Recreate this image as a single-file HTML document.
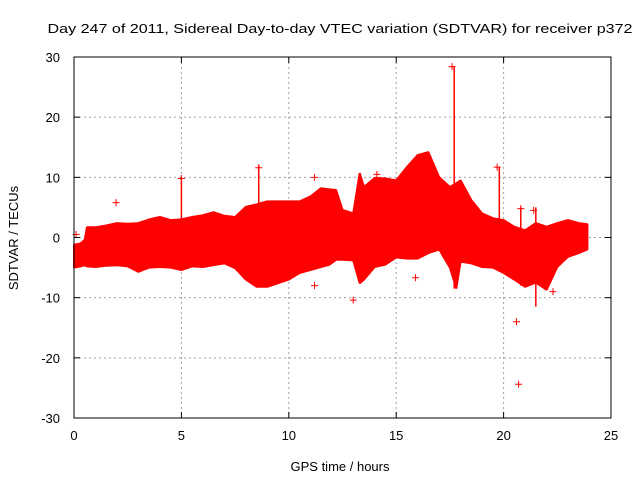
<!DOCTYPE html>
<html><head><meta charset="utf-8">
<style>
html,body{margin:0;padding:0;background:#fff;}
svg{display:block;font-family:"Liberation Sans",sans-serif;}
</style></head>
<body>
<svg id="chart" width="640" height="480" viewBox="0 0 640 480" xmlns="http://www.w3.org/2000/svg">
<text x="340" y="33" text-anchor="middle" font-size="13" textLength="585" lengthAdjust="spacingAndGlyphs">Day 247 of 2011, Sidereal Day-to-day VTEC variation (SDTVAR) for receiver p372</text>
<text transform="translate(18,238) rotate(-90)" text-anchor="middle" font-size="13">SDTVAR / TECUs</text>
<text x="340" y="471" text-anchor="middle" font-size="13">GPS time / hours</text>
<g id="grid"></g>
<g id="marks"></g>
<rect x="74" y="57" width="537" height="361" fill="none" stroke="#000" stroke-width="1"/>
<g id="ticks"></g>
</svg>
<script>
const xTicks = [0, 5, 10, 15, 20, 25];
const yTicks = [-30, -20, -10, 0, 10, 20, 30];
const hours = [0,0.3,0.5,0.6,1,1.5,2,2.5,3,3.5,4,4.5,5,5.5,6,6.5,7,7.5,8,8.5,9,9.5,10,10.5,11,11.5,11.9,12.2,12.5,13,13.3,13.5,14,14.5,15,15.5,16,16.5,17,17.5,17.8,18,18.5,19,19.5,20,20.5,21,21.5,22,22.5,23,23.5,23.9];
const upper = [-1.2,-1,-0.4,1.7,1.7,2.0,2.4,2.3,2.4,3.0,3.4,2.9,3.0,3.4,3.7,4.2,3.6,3.4,5.1,5.5,6.0,6.0,6.0,6.0,6.8,8.2,8.0,7.9,4.6,4.0,10.7,8.4,9.9,9.8,9.5,11.7,13.7,14.2,10.0,8.4,9.0,9.5,6.2,4.0,3.2,2.9,1.8,1.2,2.4,1.8,2.4,2.9,2.4,2.2];
const lower = [-5,-4.8,-4.6,-4.8,-4.9,-4.7,-4.6,-4.8,-5.7,-5.0,-4.9,-5.0,-5.4,-4.8,-4.9,-4.6,-4.3,-5.1,-7.0,-8.2,-8.2,-7.6,-7.0,-5.9,-5.4,-4.9,-4.5,-3.7,-3.7,-3.8,-7.6,-7.0,-4.9,-4.5,-3.3,-3.5,-3.5,-2.6,-2.0,-5.0,-8.5,-4.0,-4.3,-4.9,-5.0,-5.9,-7.0,-8.2,-7.5,-8.7,-4.9,-3.2,-2.6,-2.0];
const spikeHours = [5.0, 8.6, 17.7, 19.8, 20.8, 21.5];
const spikeTop = [10.0, 12.0, 28.4, 11.7, 5.0, 5.0];
const spikeBottom = [3.0, 5.0, -8.5, 3.0, -8.0, -11.5];
const outlierHours = [1.96, 5.0, 8.6, 11.2, 11.2, 13.0, 14.1, 15.9, 17.6, 19.7, 20.6, 20.7, 20.8, 21.4, 22.3, 0.1];
const outlierValues = [5.8, 9.8, 11.6, 10.0, -8.0, -10.4, 10.5, -6.7, 28.4, 11.7, -14.0, -24.4, 4.8, 4.5, -9.0, 0.5];

const X0=74, X1=611, Y0=418, Y1=57;
const xs = h => X0 + (h-0)/(25-0)*(X1-X0);
const ys = v => Y0 - (v-(-30))/(60)*(Y0-Y1);
const NS="http://www.w3.org/2000/svg";
function mk(tag, attrs, parent){const e=document.createElementNS(NS,tag);for(const k in attrs)e.setAttribute(k,attrs[k]);parent.appendChild(e);return e;}
const grid=document.getElementById('grid'), ticks=document.getElementById('ticks'), marks=document.getElementById('marks');

xTicks.forEach(t=>{
  const x=xs(t);
  if(t>0&&t<25){const g=mk('line',{x1:x,x2:x,y1:Y1,y2:Y0,stroke:'#a0a0a0','stroke-dasharray':'2,3'},grid);
  
  }
  const a=mk('line',{x1:x,x2:x,y1:Y0,y2:Y0-6,stroke:'#000'},ticks);
  
  
  const b=mk('line',{x1:x,x2:x,y1:Y1,y2:Y1+6,stroke:'#000'},ticks);
  
  
  const l=mk('text',{x:x,y:Y0+22,'text-anchor':'middle','font-size':13},ticks);
  l.textContent=t;
  
  
});
yTicks.forEach(t=>{
  const y=ys(t);
  if(t>-30&&t<30){const g=mk('line',{x1:X0,x2:X1,y1:y,y2:y,stroke:'#a0a0a0','stroke-dasharray':'2,3'},grid);
  
  }
  const a=mk('line',{x1:X0,x2:X0+6,y1:y,y2:y,stroke:'#000'},ticks);
  
  
  const b=mk('line',{x1:X1,x2:X1-6,y1:y,y2:y,stroke:'#000'},ticks);
  
  
  const l=mk('text',{x:X0-14,y:y+5,'text-anchor':'end','font-size':13},ticks);
  l.textContent=t;
  
  
});

// band
let pts=[];
for(let i=0;i<hours.length;i++)pts.push(xs(hours[i]).toFixed(1)+','+ys(upper[i]).toFixed(1));
for(let i=hours.length-1;i>=0;i--)pts.push(xs(hours[i]).toFixed(1)+','+ys(lower[i]).toFixed(1));
const band=mk('polygon',{points:pts.join(' '),fill:'#ff0000',stroke:'#ff0000','stroke-width':2,'stroke-linejoin':'bevel'},marks);



spikeHours.forEach((h,i)=>{
  const s=mk('line',{x1:xs(h),x2:xs(h),y1:ys(spikeTop[i]),y2:ys(spikeBottom[i]),stroke:'#ff0000','stroke-width':1.5},marks);
  
  
});
outlierHours.forEach((h,i)=>{
  const x=xs(h), y=ys(outlierValues[i]);
  const p=mk('path',{d:`M${x-3.5},${y}H${x+3.5}M${x},${y-3.5}V${y+3.5}`,stroke:'#ff0000','stroke-width':1},marks);
  
  
});
</script>
</body></html>
